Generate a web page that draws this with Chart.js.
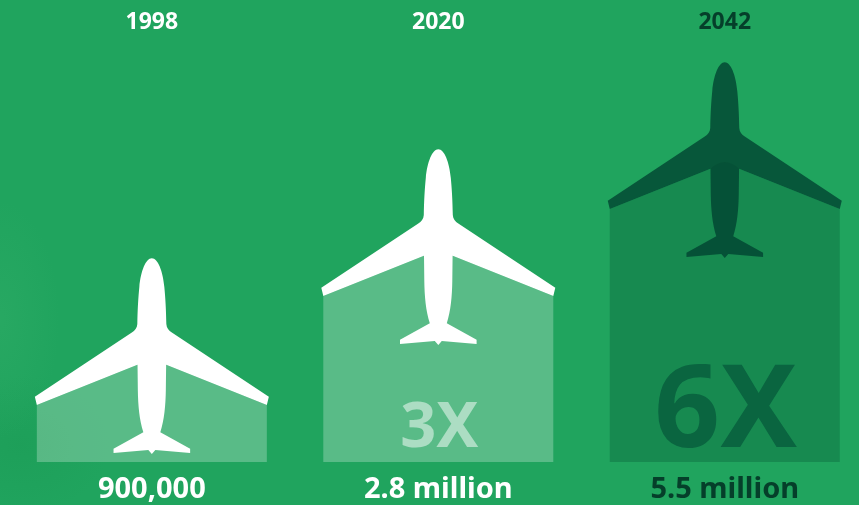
<!DOCTYPE html>
<html>
<head>
<meta charset="utf-8">
<style>
  html, body { margin: 0; padding: 0; width: 859px; height: 505px; overflow: hidden; }
  body {
    background:
      radial-gradient(ellipse 60px 120px at 0px 320px, rgba(70,185,115,0.2), rgba(70,185,115,0)),
      radial-gradient(ellipse 90px 70px at 20px 445px, rgba(25,150,80,0.35), rgba(25,150,80,0)),
      #20a45e;
  }
  canvas { display: block; }
</style>
<script src="https://cdn.jsdelivr.net/npm/chart.js@4"></script>
</head>
<body>
<canvas id="fleet" width="868" height="505"></canvas>
<script>
// Commercial aircraft in service, by year
const years = ['1998', '2020', '2042'];
const fleetSizes = [900000, 2800000, 5500000];
const fleetLabels = ['900,000', '2.8 million', '5.5 million'];
const multipliers = ['', '3X', '6X'];
const axisFloor = 396000;
const axisCeiling = 14740000;

const LIGHT = '#ffffff';
const DARK_TEXT = '#053f2a';
const yearColors = [LIGHT, LIGHT, DARK_TEXT];
const valueColors = [LIGHT, LIGHT, DARK_TEXT];
const barColors = ['rgba(255,255,255,0.26)', 'rgba(255,255,255,0.26)', 'rgba(4,80,50,0.3)'];
const planeColors = ['#ffffff', '#ffffff', 'rgba(1,68,49,0.8)'];
const multiplierColors = ['', 'rgba(255,255,255,0.5)', '#0a6540'];
const multiplierFonts = ['', '700 63px "Noto Sans"', '700 115px "Noto Sans"'];

// Plane silhouette, with the origin at the centre of the trailing wing-tip line
const planeShape = new Path2D(
  'M0,-146.7 C6,-146.7 11,-134 12.5,-118 C13.5,-108 14.3,-95 14.5,-81 ' +
  'C14.7,-77 17,-74.5 20,-72.5 L117,-8.3 L115,0 L14.3,-40.3 L14,-15 ' +
  'C13.8,0 12.5,15 8.5,27.3 L38.3,43.7 L38.3,48 L3.5,45 L0,49 L-3.5,45 L-38.3,48 L-38.3,43.7 L-8.5,27.3 ' +
  'C-12.5,15 -13.8,0 -14,-15 L-14.3,-40.3 L-115,0 L-117,-8.3 L-20,-72.5 ' +
  'C-17,-74.5 -14.7,-77 -14.5,-81 C-14.3,-95 -13.5,-108 -12.5,-118 C-11,-134 -6,-146.7 0,-146.7 Z'
);

// Pictogram heights grow with the cube root of the fleet size
class CubeRootScale extends Chart.LinearScale {
  static id = 'cubeRoot';
  static defaults = Chart.LinearScale.defaults;
  getPixelForValue(value) {
    const lo = Math.cbrt(this.min), hi = Math.cbrt(this.max);
    return Math.round(this.getPixelForDecimal((Math.cbrt(value) - lo) / (hi - lo)));
  }
  getValueForPixel(pixel) {
    const lo = Math.cbrt(this.min), hi = Math.cbrt(this.max);
    return Math.pow(lo + this.getDecimalForPixel(pixel) * (hi - lo), 3);
  }
}
Chart.register(CubeRootScale);

// Roof of each column under the wings, then the plane and the multiplier on top
const planes = {
  id: 'planes',
  afterDatasetsDraw(chart) {
    const ctx = chart.ctx;
    chart.getDatasetMeta(0).data.forEach((bar, i) => {
      const half = bar.width / 2;
      ctx.save();
      ctx.translate(bar.x, bar.y);
      ctx.fillStyle = barColors[i];
      ctx.beginPath();
      ctx.moveTo(-half, 0);
      ctx.lineTo(-14.3, -40.3);
      ctx.quadraticCurveTo(0, -53.7, 14.3, -40.3);
      ctx.lineTo(half, 0);
      ctx.closePath();
      ctx.fill();
      ctx.fillStyle = planeColors[i];
      ctx.fill(planeShape);
      ctx.restore();

      if (multipliers[i]) {
        ctx.save();
        ctx.font = multiplierFonts[i];
        ctx.fillStyle = multiplierColors[i];
        ctx.textAlign = 'center';
        ctx.textBaseline = 'alphabetic';
        ctx.fillText(multipliers[i], bar.x + 1, bar.base - 15);
        ctx.restore();
      }
    });
  }
};

new Chart(document.getElementById('fleet'), {
  type: 'bar',
  data: {
    labels: years,
    datasets: [{
      data: fleetSizes,
      base: axisFloor,
      backgroundColor: barColors,
      borderWidth: 0,
      inflateAmount: 0,
      barThickness: 230,
      xAxisID: 'x',
      yAxisID: 'y'
    }]
  },
  plugins: [planes],
  options: {
    responsive: false,
    animation: false,
    layout: { padding: { left: 8.6 } },
    plugins: { legend: { display: false }, tooltip: { enabled: false } },
    scales: {
      x: {
        type: 'category',
        position: 'top',
        labels: years,
        offset: true,
        grid: { display: false, drawTicks: false },
        border: { display: false },
        afterFit: s => { s.height = 40; },
        ticks: {
          autoSkip: false,
          maxRotation: 0,
          padding: 4,
          font: { family: 'Noto Sans', size: 23, weight: '700' },
          color: c => yearColors[c.index]
        }
      },
      x2: {
        type: 'category',
        position: 'bottom',
        labels: fleetLabels,
        offset: true,
        grid: { display: false, drawTicks: false },
        border: { display: false },
        afterFit: s => { s.height = 43; },
        ticks: {
          autoSkip: false,
          maxRotation: 0,
          padding: 10,
          font: { family: 'Noto Sans', size: 29, weight: '700' },
          color: c => valueColors[c.index]
        }
      },
      y: {
        type: 'cubeRoot',
        display: false,
        bounds: 'data',
        min: axisFloor,
        max: axisCeiling
      }
    }
  }
});
</script>
</body>
</html>
